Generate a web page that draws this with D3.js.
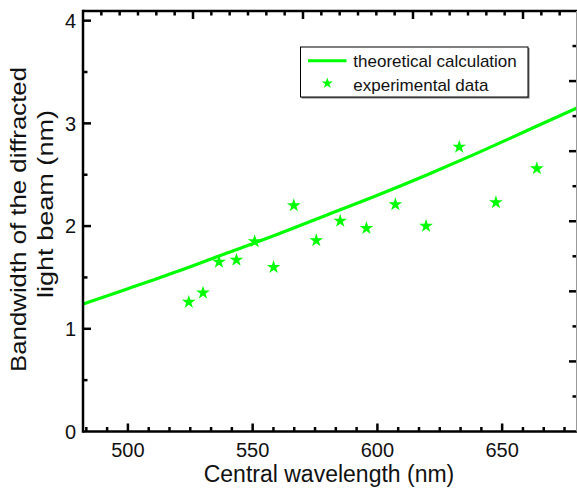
<!DOCTYPE html>
<html>
<head>
<meta charset="utf-8">
<script src="https://cdn.jsdelivr.net/npm/d3@7"></script>
<style>
  html, body { margin: 0; padding: 0; background: #fff; }
  svg { display: block; font-family: "Liberation Sans", Arial, sans-serif; }
</style>
</head>
<body>
<svg id="chart" width="577" height="493"></svg>
<script>

/* Theoretical curve */
var theoryX = [482, 500, 520, 540, 560, 580, 600, 620, 640, 660, 680];
var theoryY = [1.24, 1.39, 1.56, 1.74, 1.92, 2.11, 2.30, 2.50, 2.71, 2.93, 3.15];

/* Experimental points */
var expX = [524.4, 530.1, 536.5, 543.5, 550.8, 558.4, 566.5, 575.5, 585.1, 595.6, 607.2, 619.5, 632.8, 647.5, 663.9];
var expY = [1.26, 1.35, 1.65, 1.67, 1.85, 1.60, 2.20, 1.86, 2.05, 1.98, 2.21, 2.00, 2.77, 2.23, 2.56];

var xTicks = [500, 550, 600, 650];
var yTicks = [0, 1, 2, 3, 4];
var legendLabels = ["theoretical calculation", "experimental data"];

var green = "#00ff00";

var plotLeft = 83, plotRight = 577, plotTop = 11, plotBottom = 431.5;

var svg = d3.select("#chart");

var x = d3.scaleLinear().domain([482, 680]).range([plotLeft, plotRight]);
var y = d3.scaleLinear().domain([0, 4.094]).range([plotBottom, plotTop]);

/* unlabelled secondary scales used only for the top / right tick marks */
var xTop = d3.scaleLinear().domain([0, (plotRight - plotLeft) / 110]).range([plotLeft, plotRight]);
var yRight = d3.scaleLinear().domain([0, 6]).range([plotBottom, plotTop]);

function ticksEvery(scale, step) {
  var d = scale.domain(), out = [];
  for (var i = 0; d[0] + i * step <= d[1] + 1e-9; i++) out.push(d[0] + i * step);
  return out;
}

function near(a, b) { return Math.abs(a - b) < 1e-6; }

svg.append("clipPath").attr("id", "plot-clip")
  .append("rect")
  .attr("x", plotLeft).attr("y", plotTop)
  .attr("width", plotRight - plotLeft).attr("height", plotBottom - plotTop);

/* Data */
var line = d3.line()
  .x(function(d, i) { return x(theoryX[i]); })
  .y(function(d) { return y(d); })
  .curve(d3.curveMonotoneX);

svg.append("path")
  .datum(theoryY)
  .attr("clip-path", "url(#plot-clip)")
  .attr("fill", "none")
  .attr("stroke", green)
  .attr("stroke-width", 3.2)
  .attr("d", line);

var star = d3.symbol().type(d3.symbolStar).size(58);

svg.append("g").selectAll("path")
  .data(expY)
  .enter().append("path")
  .attr("transform", function(d, i) { return "translate(" + x(expX[i]) + "," + y(d) + ")"; })
  .attr("fill", green)
  .attr("d", star);

/* Frame and ticks, all drawn inward */
var frame = svg.append("g").attr("stroke", "#000");

function hTicks(scale, vals, y0, dir, majorTest) {
  frame.append("g").selectAll("line")
    .data(vals)
    .enter().append("line")
    .attr("x1", function(d) { return scale(d); })
    .attr("x2", function(d) { return scale(d); })
    .attr("y1", y0)
    .attr("y2", function(d) { return y0 + dir * (majorTest(d) ? 8 : 4.5); })
    .attr("stroke-width", 2.5);
}

function vTicks(scale, vals, x0, dir, majorTest) {
  frame.append("g").selectAll("line")
    .data(vals)
    .enter().append("line")
    .attr("y1", function(d) { return scale(d); })
    .attr("y2", function(d) { return scale(d); })
    .attr("x1", x0)
    .attr("x2", function(d) { return x0 + dir * (majorTest(d) ? 8 : 4.5); })
    .attr("stroke-width", 2.5);
}

/* bottom: majors every 50, five minors between */
var bottomVals = [];
for (var k = -2; 500 + k * 50 / 6 <= 680; k++) bottomVals.push(500 + k * 50 / 6);
hTicks(x, bottomVals, plotBottom, -1, function(d) { return xTicks.some(function(t) { return near(t, d); }); });

/* top */
hTicks(xTop, ticksEvery(xTop, 1 / 6).slice(1), plotTop, 1, function(d) { return near(d, Math.round(d)); });

/* left */
vTicks(y, ticksEvery(y, 0.5).slice(1), plotLeft, 1, function(d) { return near(d, Math.round(d)); });

/* right */
vTicks(yRight, ticksEvery(yRight, 0.5).slice(1, -1), plotRight, -1, function(d) { return near(d, Math.round(d)); });

frame.append("line").attr("x1", plotLeft).attr("x2", plotRight).attr("y1", plotBottom).attr("y2", plotBottom).attr("stroke-width", 2.5);
frame.append("line").attr("x1", plotLeft).attr("x2", plotRight).attr("y1", plotTop).attr("y2", plotTop).attr("stroke-width", 2.5);
frame.append("line").attr("x1", plotLeft).attr("x2", plotLeft).attr("y1", plotTop - 1.25).attr("y2", plotBottom + 1.25).attr("stroke-width", 2.5);
frame.append("line").attr("x1", plotRight - 0.5).attr("x2", plotRight - 0.5).attr("y1", plotTop).attr("y2", plotBottom)
  .attr("stroke", "#999").attr("stroke-width", 1);

/* Tick labels */
svg.append("g").selectAll("text")
  .data(xTicks)
  .enter().append("text")
  .attr("x", function(d) { return x(d); })
  .attr("y", 457.3)
  .attr("text-anchor", "middle")
  .attr("font-size", 20)
  .attr("fill", "#111")
  .text(function(d) { return d; });

svg.append("g").selectAll("text")
  .data(yTicks)
  .enter().append("text")
  .attr("x", 76)
  .attr("y", function(d) { return y(d); })
  .attr("dy", "0.36em")
  .attr("text-anchor", "end")
  .attr("font-size", 20)
  .attr("fill", "#111")
  .text(function(d) { return d; });

/* Axis titles */
svg.append("text")
  .attr("x", 329)
  .attr("y", 481.5)
  .attr("text-anchor", "middle")
  .attr("font-size", 23)
  .attr("fill", "#111")
  .text("Central wavelength (nm)");

svg.append("text")
  .attr("transform", "translate(26,219.5) rotate(-90)")
  .attr("text-anchor", "middle")
  .attr("font-size", 22)
  .attr("textLength", 305)
  .attr("lengthAdjust", "spacingAndGlyphs")
  .attr("fill", "#111")
  .text("Bandwidth of the diffracted");

svg.append("text")
  .attr("transform", "translate(53,204) rotate(-90)")
  .attr("text-anchor", "middle")
  .attr("font-size", 22)
  .attr("textLength", 188)
  .attr("lengthAdjust", "spacingAndGlyphs")
  .attr("fill", "#111")
  .text("light beam (nm)");

/* Legend */
var legend = svg.append("g");

legend.append("rect")
  .attr("x", 301.5).attr("y", 48)
  .attr("width", 228).attr("height", 50.5)
  .attr("fill", "#777");

legend.append("rect")
  .attr("x", 300.5).attr("y", 47)
  .attr("width", 227.5).attr("height", 50)
  .attr("fill", "#fff")
  .attr("stroke", "#000")
  .attr("stroke-width", 1);

legend.append("line")
  .attr("x1", 308).attr("x2", 346.5)
  .attr("y1", 60.7).attr("y2", 60.7)
  .attr("stroke", green)
  .attr("stroke-width", 3);

legend.append("path")
  .attr("transform", "translate(327.3,83.3)")
  .attr("fill", green)
  .attr("d", d3.symbol().type(d3.symbolStar).size(38));

legend.selectAll("text")
  .data(legendLabels)
  .enter().append("text")
  .attr("x", 353.3)
  .attr("y", function(d, i) { return 66.5 + i * 24; })
  .attr("font-size", 17)
  .attr("fill", "#111")
  .text(function(d) { return d; });

</script>
</body>
</html>
